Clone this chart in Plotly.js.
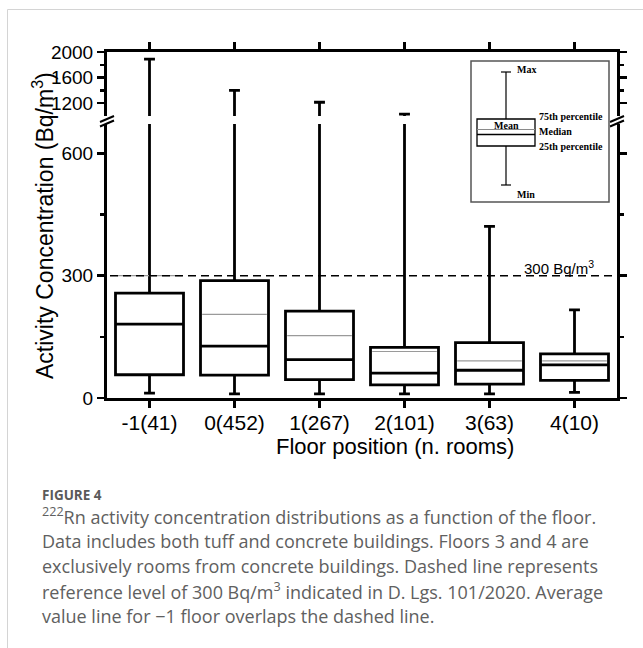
<!DOCTYPE html>
<html>
<head>
<meta charset="utf-8">
<script src="https://cdn.plot.ly/plotly-3.0.1.min.js"></script>
<style>
  html, body { margin: 0; padding: 0; background: #ffffff; }
  #chart { width: 643px; height: 648px; }
</style>
</head>
<body>
<div id="chart"></div>
<script>
// ---- data ----
const floorLabels = ['-1(41)', '0(452)', '1(267)', '2(101)', '3(63)', '4(10)'];
const minVals    = [12, 10, 10, 10, 10, 14];
const q1Vals     = [57, 56, 45, 32, 34, 43];
const medianVals = [181, 127, 94, 61, 68, 81];
const q3Vals     = [257, 288, 213, 124, 136, 108];
const maxVals    = [1890, 1400, 1215, 1030, 421, 216];
const meanVals   = [300, 205, 153, 114, 91, 91];
const refLevel   = 300;

const lowerTicks = [0, 300, 600];
const lowerMinor = [150, 450];
const upperTicks = [1200, 1600, 2000];
const upperMinor = [1400, 1800];

// ---- layout geometry ----
const W = 643, H = 648;
const L = 107, R = 617, T = 52, B = 398;
const X = px => (px - L) / (R - L);
const Y = py => (B - py) / (B - T);

const xs = floorLabels.map((_, i) => i);
const boxWidth = 0.8;

const boxCommon = {
  type: 'box',
  x: xs,
  q1: q1Vals, median: medianVals, q3: q3Vals,
  lowerfence: minVals, upperfence: maxVals,
  boxpoints: false,
  width: boxWidth,
  whiskerwidth: 0.16,
  line: {color: '#000000', width: 2.8},
  fillcolor: 'rgba(255,255,255,0)',
  hoverinfo: 'skip',
  showlegend: false
};

const lowerBox = Object.assign({}, boxCommon, {xaxis: 'x', yaxis: 'y'});
const upperBox = Object.assign({}, boxCommon, {xaxis: 'x2', yaxis: 'y2'});

// mean lines (grey, thin) across each box
const meanX = [], meanY = [];
xs.forEach((xv, i) => {
  meanX.push(xv - boxWidth / 2 + 0.02, xv + boxWidth / 2 - 0.02, null);
  meanY.push(meanVals[i], meanVals[i], null);
});
const meanTrace = {
  type: 'scatter', mode: 'lines', x: meanX, y: meanY,
  xaxis: 'x', yaxis: 'y',
  line: {color: '#9a9a9a', width: 1.2},
  hoverinfo: 'skip', showlegend: false
};

const tickFont = {family: 'Liberation Sans, Arial, sans-serif', size: 19, color: '#000'};
const axLine = {showline: true, linecolor: '#000', linewidth: 3, showgrid: false, zeroline: false};

const layout = {
  width: W, height: H,
  margin: {l: L, r: W - R, t: T, b: H - B, pad: 0},
  paper_bgcolor: '#ffffff', plot_bgcolor: '#ffffff',
  showlegend: false,
  xaxis: Object.assign({}, axLine, {
    domain: [0, 1], anchor: 'y', range: [-0.5, 5.5],
    tickmode: 'array', tickvals: xs, ticktext: floorLabels,
    ticks: 'outside', ticklen: 7, tickwidth: 2.5, tickcolor: '#000',
    ticklabelstandoff: -3,
    tickfont: {family: 'Liberation Sans, Arial, sans-serif', size: 21, color: '#000'},
    fixedrange: true
  }),
  xaxis2: Object.assign({}, axLine, {
    domain: [0, 1], anchor: 'y2', side: 'top', range: [-0.5, 5.5],
    tickmode: 'array', tickvals: xs, showticklabels: false,
    ticks: 'outside', ticklen: 7, tickwidth: 2.5, tickcolor: '#000',
    fixedrange: true
  }),
  yaxis: Object.assign({}, axLine, {
    domain: [0, Y(124)], anchor: 'x', range: [0, 672], mirror: 'ticks',
    tickmode: 'array', tickvals: lowerTicks, ticktext: lowerTicks.map(String),
    ticks: 'outside', ticklen: 7, tickwidth: 2.5, tickcolor: '#000',
    minor: {tickmode: 'array', tickvals: lowerMinor, ticks: 'outside', ticklen: 4, tickwidth: 2.5, tickcolor: '#000'},
    tickfont: tickFont, fixedrange: true
  }),
  yaxis2: Object.assign({}, axLine, {
    domain: [Y(116), 1], anchor: 'x2', range: [1000, 2000], mirror: 'ticks',
    tickmode: 'array', tickvals: upperTicks, ticktext: upperTicks.map(String),
    ticks: 'outside', ticklen: 7, tickwidth: 2.5, tickcolor: '#000',
    minor: {tickmode: 'array', tickvals: upperMinor, ticks: 'outside', ticklen: 4, tickwidth: 2.5, tickcolor: '#000'},
    tickfont: tickFont, fixedrange: true
  }),
  shapes: [],
  annotations: []
};

// reference level dashed line
layout.shapes.push({
  type: 'line', xref: 'paper', yref: 'y', x0: X(110), x1: X(614), y0: refLevel, y1: refLevel,
  line: {color: '#000', width: 1.6, dash: '8px,5px'}, layer: 'above'
});

// axis break marks
[L, R].forEach(ax => {
  [0, 4.5].forEach(off => {
    layout.shapes.push({
      type: 'line', xref: 'paper', yref: 'paper',
      x0: X(ax - 7), x1: X(ax + 7), y0: Y(122 + off), y1: Y(116 + off),
      line: {color: '#000', width: 2}
    });
  });
});

// inset legend illustration
const serif = {family: 'Liberation Serif, Times New Roman, serif', size: 10, color: '#000'};
layout.shapes.push(
  {type: 'rect', xref: 'paper', yref: 'paper', x0: X(471), x1: X(609), y0: Y(202), y1: Y(61), line: {color: '#555', width: 1.5}},
  {type: 'line', xref: 'paper', yref: 'paper', x0: X(506), x1: X(506), y0: Y(72), y1: Y(119), line: {color: '#000', width: 1.2}},
  {type: 'line', xref: 'paper', yref: 'paper', x0: X(506), x1: X(506), y0: Y(146), y1: Y(185), line: {color: '#000', width: 1.2}},
  {type: 'line', xref: 'paper', yref: 'paper', x0: X(501), x1: X(511), y0: Y(72), y1: Y(72), line: {color: '#000', width: 1.2}},
  {type: 'line', xref: 'paper', yref: 'paper', x0: X(501), x1: X(511), y0: Y(185), y1: Y(185), line: {color: '#000', width: 1.2}},
  {type: 'rect', xref: 'paper', yref: 'paper', x0: X(477), x1: X(535), y0: Y(146), y1: Y(119), line: {color: '#000', width: 1.3}},
  {type: 'line', xref: 'paper', yref: 'paper', x0: X(477), x1: X(535), y0: Y(129.5), y1: Y(129.5), line: {color: '#8a8a8a', width: 1}},
  {type: 'line', xref: 'paper', yref: 'paper', x0: X(477), x1: X(535), y0: Y(134.5), y1: Y(134.5), line: {color: '#000', width: 1.3}}
);
const insetText = [
  ['Max', 515, 69, 'left'],
  ['75th percentile', 537, 116, 'left'],
  ['Median', 537, 131.5, 'left'],
  ['25th percentile', 537, 146, 'left'],
  ['Mean', 506, 126, 'center'],
  ['Min', 515, 194, 'left']
];
insetText.forEach(([t, px, py, al]) => {
  layout.annotations.push({
    text: '<b>' + t + '</b>', xref: 'paper', yref: 'paper', x: X(px), y: Y(py),
    xanchor: al, yanchor: 'middle', showarrow: false, font: serif
  });
});

// "300 Bq/m3" label
layout.annotations.push({
  text: '300 Bq/m<sup>3</sup>', xref: 'paper', yref: 'paper', x: X(559), y: Y(267),
  xanchor: 'center', yanchor: 'middle', showarrow: false,
  font: {family: 'Liberation Sans, Arial, sans-serif', size: 15, color: '#000'}
});

// axis titles
layout.annotations.push({
  text: 'Activity Concentration (Bq/m<sup>3</sup>)', xref: 'paper', yref: 'paper',
  x: X(43), y: Y(226), textangle: -90, xanchor: 'center', yanchor: 'middle', showarrow: false,
  font: {family: 'Liberation Sans, Arial, sans-serif', size: 23, color: '#000'}
});
layout.annotations.push({
  text: 'Floor position (n. rooms)', xref: 'paper', yref: 'paper',
  x: X(395), y: Y(446), xanchor: 'center', yanchor: 'middle', showarrow: false,
  font: {family: 'Liberation Sans, Arial, sans-serif', size: 22, color: '#000'}
});

// card border
layout.shapes.push(
  {type: 'line', xref: 'paper', yref: 'paper', x0: X(7.5), x1: X(7.5), y0: Y(9.5), y1: Y(660), line: {color: '#d4d4d4', width: 1}},
  {type: 'line', xref: 'paper', yref: 'paper', x0: X(7.5), x1: X(660), y0: Y(9.5), y1: Y(9.5), line: {color: '#d4d4d4', width: 1}}
);

// caption
const capFont = {family: 'Open Sans, Noto Sans, sans-serif', size: 18, color: '#606060'};
layout.annotations.push({
  text: '<b>FIGURE 4</b>', xref: 'paper', yref: 'paper', x: X(40), y: Y(495),
  xanchor: 'left', yanchor: 'middle', showarrow: false,
  font: {family: 'Open Sans, Noto Sans, sans-serif', size: 13.5, color: '#5a5a5a'}
});
const capLines = [
  '<sup>222</sup>Rn activity concentration distributions as a function of the floor.',
  'Data includes both tuff and concrete buildings. Floors 3 and 4 are',
  'exclusively rooms from concrete buildings. Dashed line represents',
  'reference level of 300 Bq/m<sup>3</sup> indicated in D. Lgs. 101/2020. Average',
  'value line for \u22121 floor overlaps the dashed line.'
];
capLines.forEach((t, i) => {
  layout.annotations.push({
    text: t, xref: 'paper', yref: 'paper', x: X(40), y: Y(516 + 25 * i),
    xanchor: 'left', yanchor: 'middle', showarrow: false, font: capFont
  });
});

Plotly.newPlot('chart', [lowerBox, upperBox, meanTrace], layout, {displayModeBar: false, staticPlot: true});
</script>
</body>
</html>
